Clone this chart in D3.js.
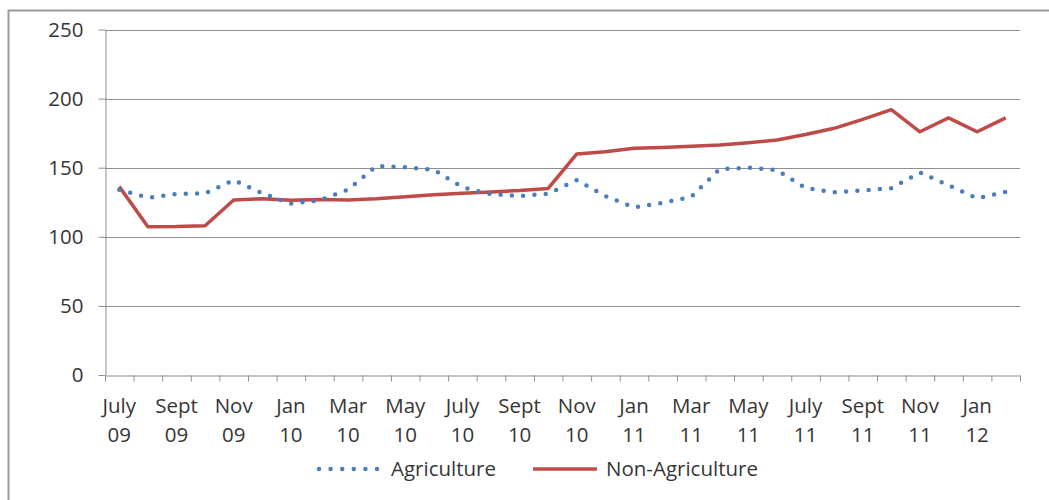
<!DOCTYPE html>
<html>
<head>
<meta charset="utf-8">
<script src="https://cdn.jsdelivr.net/npm/d3@7"></script>
<style>
  html, body { margin: 0; padding: 0; background: #ffffff; }
  svg { display: block; }
  text { font-family: "Open Sans", "Noto Sans", sans-serif; fill: #363636; }
</style>
</head>
<body>
<svg id="chart" width="1049" height="500"></svg>
<script>
// Monthly categories, July 2009 – February 2012
const months = [
  "July 09", "Aug 09", "Sept 09", "Oct 09", "Nov 09", "Dec 09",
  "Jan 10", "Feb 10", "Mar 10", "Apr 10", "May 10", "June 10",
  "July 10", "Aug 10", "Sept 10", "Oct 10", "Nov 10", "Dec 10",
  "Jan 11", "Feb 11", "Mar 11", "Apr 11", "May 11", "June 11",
  "July 11", "Aug 11", "Sept 11", "Oct 11", "Nov 11", "Dec 11",
  "Jan 12", "Feb 12"
];

// Month labels shown on the axis (every second month)
const tickLabels = months.filter((m, i) => i % 2 === 0);

const agriculture = [
  134, 128.3, 131, 131.5, 141, 131.5,
  124, 126.4, 134.2, 151.3, 150.3, 148.5,
  135.8, 130.8, 129.5, 131.2, 141, 129.5,
  121.2, 124.5, 128.9, 149, 150, 148.3,
  135.3, 132.2, 133.6, 135.2, 146.5, 137.3,
  127.7, 132.6
];

const nonAgriculture = [
  136.3, 107.3, 107.4, 108, 126.6, 127.6,
  126.5, 127, 126.6, 127.5, 129, 130.5,
  131.5, 132.5, 133.5, 135, 160, 161.5,
  164, 164.7, 165.5, 166.4, 168, 170,
  174, 178.5, 185, 192, 176, 186,
  176, 186
];

const yTicks = [0, 50, 100, 150, 200, 250];

const seriesNames = ["Agriculture", "Non-Agriculture"];
const blue = "#4a7ebb";
const red = "#be4b48";
const gridColor = "#8e8e8e";
const textColor = "#363636";
const fontSize = 20.5;

const svg = d3.select("#chart");

// Outer chart frame (open on the right and bottom edges of the view)
svg.append("rect")
  .attr("x", 8.5).attr("y", 10.5)
  .attr("width", 1080).attr("height", 520)
  .attr("fill", "#ffffff")
  .attr("stroke", "#9a9a9a")
  .attr("stroke-width", 2);

const plot = { left: 105, right: 1020, top: 29.5, bottom: 375 };

const x = d3.scaleBand()
  .domain(months)
  .range([plot.left, plot.right])
  .paddingInner(0).paddingOuter(0);

const xc = d => x(d) + x.bandwidth() / 2;

const y = d3.scaleLinear()
  .domain([0, 250])
  .range([plot.bottom, plot.top]);

// Horizontal gridlines
svg.append("g")
  .selectAll("line")
  .data(yTicks.filter(t => t > 0))
  .join("line")
  .attr("x1", plot.left).attr("x2", plot.right)
  .attr("y1", d => Math.round(y(d)) + 0.5)
  .attr("y2", d => Math.round(y(d)) + 0.5)
  .attr("stroke", gridColor)
  .attr("stroke-width", 1);

// Y axis
const yAxis = svg.append("g")
  .attr("transform", `translate(${plot.left + 0.5},0)`)
  .call(d3.axisLeft(y).tickValues(yTicks).tickSize(7).tickPadding(15).tickSizeOuter(0));
yAxis.select(".domain").attr("stroke", gridColor);
yAxis.selectAll(".tick line").attr("stroke", gridColor);
yAxis.selectAll(".tick text")
  .attr("font-size", fontSize)
  .attr("font-family", "'Open Sans', sans-serif")
  .attr("fill", textColor);

// X axis: tick marks on category boundaries
const xBound = d3.scaleLinear().domain([0, months.length]).range([plot.left, plot.right]);
const xTickAxis = svg.append("g")
  .attr("transform", `translate(0,${Math.round(plot.bottom) + 0.5})`)
  .call(d3.axisBottom(xBound).tickValues(d3.range(months.length + 1)).tickFormat("").tickSize(6).tickSizeOuter(0));
xTickAxis.select(".domain").attr("stroke", gridColor);
xTickAxis.selectAll(".tick line").attr("stroke", gridColor);

// X axis labels, two lines each, on every second month
const xLabelAxis = svg.append("g")
  .attr("transform", `translate(0,${plot.bottom})`)
  .call(d3.axisBottom(x).tickValues(tickLabels).tickSize(0).tickPadding(0));
xLabelAxis.select(".domain").remove();
xLabelAxis.selectAll(".tick text").each(function (d) {
  const parts = d.split(" ");
  const t = d3.select(this)
    .text(null)
    .attr("y", 0).attr("dy", null)
    .attr("font-size", fontSize)
    .attr("font-family", "'Open Sans', sans-serif")
    .attr("fill", textColor);
  t.append("tspan").attr("x", 0).attr("y", 38).text(parts[0]);
  t.append("tspan").attr("x", 0).attr("y", 67).text(parts[1]);
});

// Series lines
const line = d3.line()
  .x((d, i) => xc(months[i]))
  .y(d => y(d));

svg.append("path")
  .datum(nonAgriculture)
  .attr("d", line)
  .attr("fill", "none")
  .attr("stroke", red)
  .attr("stroke-width", 3.5)
  .attr("stroke-linejoin", "round");

svg.append("path")
  .datum(agriculture)
  .attr("d", line)
  .attr("fill", "none")
  .attr("stroke", blue)
  .attr("stroke-width", 4.5)
  .attr("stroke-linecap", "round")
  .attr("stroke-dasharray", "0 11.3");

// Legend
const legend = svg.append("g").attr("transform", "translate(0,469)");
const legendItems = [
  { name: seriesNames[0], x0: 319, x1: 378, tx: 391, color: blue, dotted: true },
  { name: seriesNames[1], x0: 533, x1: 597, tx: 606, color: red, dotted: false }
];
legendItems.forEach(item => {
  const l = legend.append("line")
    .attr("x1", item.x0).attr("x2", item.x1)
    .attr("y1", 0).attr("y2", 0)
    .attr("stroke", item.color);
  if (item.dotted) {
    l.attr("stroke-width", 4.5).attr("stroke-linecap", "round").attr("stroke-dasharray", "0 11.6");
  } else {
    l.attr("stroke-width", 3.5);
  }
  legend.append("text")
    .attr("x", item.tx).attr("y", 0).attr("dy", "0.35em")
    .attr("font-size", fontSize)
    .attr("fill", textColor)
    .text(item.name);
});
</script>
</body>
</html>
